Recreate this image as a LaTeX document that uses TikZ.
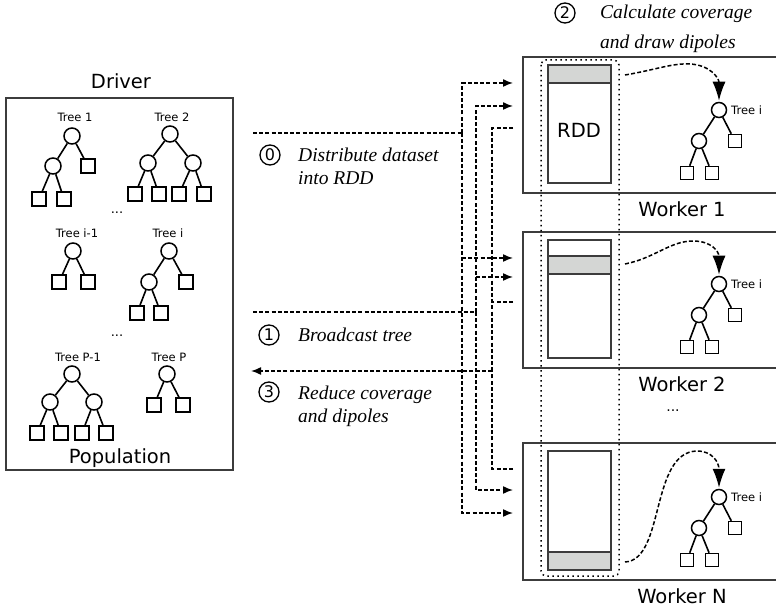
\documentclass[tikz,border=0pt]{standalone}
\usepackage{fontspec}
\setmainfont{DejaVu Sans}
\newfontfamily\notefont{Liberation Serif}
\usetikzlibrary{positioning,calc}
\usetikzlibrary{arrows.meta}
\definecolor{BoxGray}{RGB}{60,60,60}
\definecolor{BandGray}{RGB}{212,214,212}
\tikzset{
  knot/.style={circle,draw=black,fill=white,line width=1.5pt,minimum size=16pt,inner sep=0pt},
  leafsq/.style={rectangle,draw=black,fill=white,line width=1.5pt,minimum size=14pt,inner sep=0pt},
  wknot/.style={knot,minimum size=15pt},
  wleaf/.style={leafsq,minimum size=13pt},
  branch/.style={draw=black,line width=1.6pt},
  treelbl/.style={font=\fontsize{11.5}{13}\selectfont,inner sep=0pt},
  biglbl/.style={font=\fontsize{19.5}{22}\selectfont,inner sep=0pt},
  stepnum/.style={circle,draw=black,line width=1.3pt,minimum size=20pt,inner sep=0pt,
    font=\fontsize{16}{16}\selectfont},
  note/.style={font=\notefont\itshape\fontsize{19.5}{23}\selectfont,align=left,
    inner sep=0pt,anchor=north west},
  flow/.style={draw=black,line width=1.5pt,dash pattern=on 4pt off 2.2pt},
  flowtip/.style={-{Latex[length=10pt,width=8pt]}},
  curvy/.style={flow,-{Latex[length=19pt,width=13pt]},shorten >=1pt},
  box/.style={draw=BoxGray,line width=1.8pt},
  colbox/.style={draw=BoxGray,line width=1.5pt},
  dotline/.style={draw=black,line width=1.5pt,dash pattern=on 1.5pt off 3.5pt,rounded corners=5pt},
}

\begin{document}
\begin{tikzpicture}[x=1pt,y=-1pt]
\useasboundingbox (0,0) rectangle (776,609);

% driver with population
\draw[box] (6,98) rectangle (233,470);
\node[biglbl] (drv) at (121,81) {Driver};
\node[biglbl] (pop) at (120,458) {Population};

% tree 1
\node[treelbl] (l1) at (75,117) {Tree 1};
\node[knot] (t1r) at (72,136) {};
\node[knot] (t1a) at (53,166) {};
\node[leafsq] (t1b) at (88,166) {};
\node[leafsq] (t1c) at (39,199) {};
\node[leafsq] (t1d) at (64,199) {};
\draw[branch] (t1r)--(t1a) (t1r)--(t1b) (t1a)--(t1c) (t1a)--(t1d);
% tree 2
\node[treelbl] (l2) at (172,117) {Tree 2};
\node[knot] (t2r) at (170,134) {};
\node[knot] (t2a) at (148,163) {};
\node[knot] (t2b) at (193,163) {};
\node[leafsq] (t2c) at (135,194) {};
\node[leafsq] (t2d) at (159,194) {};
\node[leafsq] (t2e) at (179,194) {};
\node[leafsq] (t2f) at (204,194) {};
\draw[branch] (t2r)--(t2a) (t2r)--(t2b) (t2a)--(t2c) (t2a)--(t2d) (t2b)--(t2e) (t2b)--(t2f);
\node[treelbl,font=\fontsize{13}{13}\selectfont] (dots1) at (117,213) {...};
% tree i-1
\node[treelbl] (l3) at (77,233) {Tree i-1};
\node[knot] (t3r) at (73,251) {};
\node[leafsq] (t3a) at (59,282) {};
\node[leafsq] (t3b) at (88,282) {};
\draw[branch] (t3r)--(t3a) (t3r)--(t3b);
% tree i
\node[treelbl] (l4) at (168,233) {Tree i};
\node[knot] (t4r) at (169,251) {};
\node[knot] (t4a) at (149,282) {};
\node[leafsq] (t4b) at (186,282) {};
\node[leafsq] (t4c) at (137,313) {};
\node[leafsq] (t4d) at (161,313) {};
\draw[branch] (t4r)--(t4a) (t4r)--(t4b) (t4a)--(t4c) (t4a)--(t4d);
\node[treelbl,font=\fontsize{13}{13}\selectfont] (dots2) at (117,336) {...};
% tree P-1
\node[treelbl] (l5) at (78,357) {Tree P-1};
\node[knot] (t5r) at (72,374) {};
\node[knot] (t5a) at (50,402) {};
\node[knot] (t5b) at (94,402) {};
\node[leafsq] (t5c) at (37,433) {};
\node[leafsq] (t5d) at (61,433) {};
\node[leafsq] (t5e) at (82,433) {};
\node[leafsq] (t5f) at (106,433) {};
\draw[branch] (t5r)--(t5a) (t5r)--(t5b) (t5a)--(t5c) (t5a)--(t5d) (t5b)--(t5e) (t5b)--(t5f);
% tree P
\node[treelbl] (l6) at (169,357) {Tree P};
\node[knot] (t6r) at (167,374) {};
\node[leafsq] (t6a) at (154,405) {};
\node[leafsq] (t6b) at (183,405) {};
\draw[branch] (t6r)--(t6a) (t6r)--(t6b);

% workers
\foreach \i/\top/\bot/\band/\root in {1/57/193/65/110,2/232/368/256/284,N/443/580/552/497}{
  \draw[box] (778,\top) -| (523,\bot) -- (778,\bot);
  \node[biglbl] (wl\i) at (682,{\bot+16}) {Worker \i};
  \draw[colbox] (548,{\top+8}) rectangle (611,{\bot-10});
  \draw[colbox,fill=BandGray] (548,\band) rectangle (611,{\band+18});
  \node[wknot] (r\i) at (719,\root) {};
  \node[treelbl,anchor=west] (ti\i) at (731,\root) {Tree i};
  \node[wknot] (a\i) at (699,{\root+31}) {};
  \node[wleaf] (b\i) at (735,{\root+31}) {};
  \node[wleaf] (c\i) at (687,{\root+63}) {};
  \node[wleaf] (d\i) at (712,{\root+63}) {};
  \draw[branch] (r\i)--(a\i) (r\i)--(b\i) (a\i)--(c\i) (a\i)--(d\i);
}
\node[biglbl] (rdd) at (579,130) {RDD};
\node[treelbl,font=\fontsize{14}{14}\selectfont] (dots3) at (673,411) {...};
\draw[dotline] (541,60) rectangle (619,576);

% calculate step
\coordinate (cs1) at (625,75);
\coordinate (cs2) at (625,264);
\coordinate (csN) at (625,562);
\draw[curvy] (cs1) .. controls (655,70) and (672,63) .. (690,64) .. controls (710,65) and (719,78) .. (r1.north);
\draw[curvy] (cs2) .. controls (655,258) and (670,241) .. (693,241) .. controls (712,241) and (719,252) .. (r2.north);
\draw[curvy] (csN) .. controls (665,560) and (650,452) .. (697,451) .. controls (712,451) and (719,462) .. (rN.north);

% dataflow between driver and workers
\coordinate (s0) at (253,133);
\coordinate (j0) at (462,133);
\coordinate (s1) at (253,312);
\coordinate (j1) at (476,312);
\coordinate (j3) at (492,371);
\coordinate (e3) at (251,371);
\foreach \i/\ya/\yb/\yc in {1/83/106/128,2/258/277/302,N/513/490/469}{
  \coordinate (in0\i) at (513,\ya);
  \coordinate (in1\i) at (513,\yb);
  \coordinate (out\i) at (513,\yc);
}
\draw[flow] (s0) -- (j0);
\draw[flow,flowtip] (j0) |- (in01);
\draw[flow,flowtip] (j0) |- (in0N);
\draw[flow,flowtip] (j0 |- in02) -- (in02);
\draw[flow] (s1) -- (j1);
\draw[flow,flowtip] (j1) |- (in11);
\draw[flow,flowtip] (j1) |- (in1N);
\draw[flow,flowtip] (j1 |- in12) -- (in12);
\draw[flow] (out1) -| (j3);
\draw[flow] (outN) -| (j3);
\draw[flow] (out2) -- (out2 -| j3);
\draw[flow,flowtip] (j3) -- (e3);

% step labels
\node[stepnum] (n0) at (270,155) {0};
\node[note] (d0) at (298,148) {Distribute dataset\\into RDD};
\node[stepnum] (n1) at (269,335) {1};
\node[note] (d1) at (298,328) {Broadcast tree};
\node[stepnum] (n3) at (269,392) {3};
\node[note] (d3) at (298,386) {Reduce coverage\\and dipoles};
\node[stepnum] (n2) at (565,13) {2};
\node[note,font=\notefont\itshape\fontsize{19.5}{30}\selectfont] (d2) at (600,5) {Calculate coverage\\and draw dipoles};
\end{tikzpicture}
\end{document}
